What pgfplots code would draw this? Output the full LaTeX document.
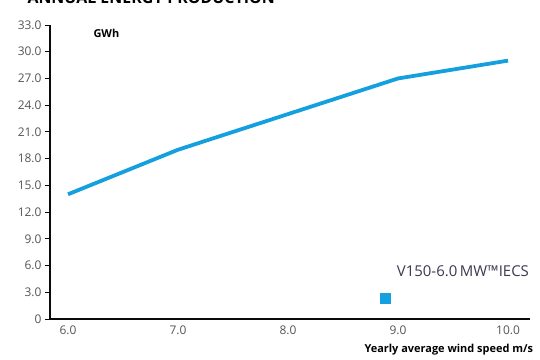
\documentclass[border=0pt]{standalone}
\usepackage{fontspec}
\setmainfont{Open Sans}
\usepackage{pgfplots}
\pgfplotsset{compat=1.18}
\definecolor{lineblue}{RGB}{20,160,222}
\definecolor{ticklab}{RGB}{85,85,85}
\definecolor{legtext}{RGB}{60,55,80}
\definecolor{axblack}{RGB}{10,10,10}
\begin{document}
\begin{tikzpicture}
\path (0bp,0bp) rectangle (540bp,360bp);
\node[overlay,anchor=base west,font=\bfseries\fontsize{16}{16}\selectfont,text=black] at (24bp,356bp) {ANNUAL ENERGY PRODUCTION};
\begin{axis}[
  at={(50bp,41bp)}, anchor=south west,
  scale only axis, width=480bp, height=294bp,
  xmin=5.836, xmax=10.2, ymin=0, ymax=33,
  axis x line*=bottom, axis y line*=left,
  xtick={6,7,8,9,10},
  xticklabels={6.0,7.0,8.0,9.0,10.0},
  ytick={0,3,6,9,12,15,18,21,24,27,30,33},
  yticklabels={0,3.0,6.0,9.0,12.0,15.0,18.0,21.0,24.0,27.0,30.0,33.0},
  xtick style={draw=none},
  ytick style={draw=none},
  ticklabel style={font=\fontsize{12}{12}\selectfont, text=ticklab},
  xticklabel style={yshift=-3bp},
  yticklabel style={xshift=-5bp},
  clip=false,
]
\addplot[axblack, line width=1.2pt, line join=miter] coordinates {(5.836,33) (5.836,0) (10.2,0)};
\addplot[axblack, only marks, mark=-, mark size=2.5bp, mark options={xshift=-2.5bp, line width=1pt, solid}] coordinates {
  (5.836,0) (5.836,3) (5.836,6) (5.836,9) (5.836,12) (5.836,15) (5.836,18) (5.836,21) (5.836,24) (5.836,27) (5.836,30) (5.836,33)
};
\addplot[lineblue, line width=3.8pt, line join=round] coordinates {
  (6,14) (7,19) (8,23) (9,27) (10,29)
};
\addplot[only marks, mark=square*, mark size=5bp, color=lineblue] coordinates {(8.88,2.35)};
\node[font=\fontsize{15}{15}\selectfont, text=legtext] at (axis cs:9.59,5.4) {V150-6.0\,MW™IECS};
\node[anchor=west, font=\bfseries\fontsize{11}{11}\selectfont] at (axis cs:6.2,32.1) {GWh};
\node[anchor=base east, font=\bfseries\fontsize{11}{11}\selectfont] at (axis cs:10.26,-3.8) {Yearly average wind speed m/s};
\end{axis}
\end{tikzpicture}
\end{document}
